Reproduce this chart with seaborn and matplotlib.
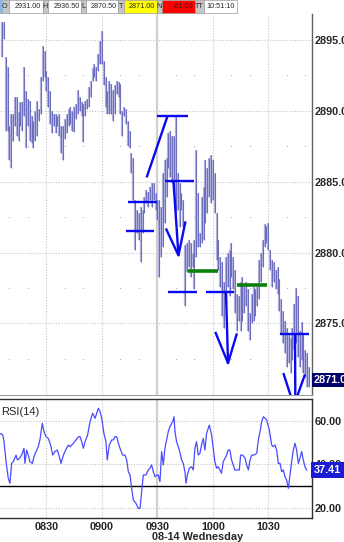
import numpy as np
import pandas as pd
import matplotlib
matplotlib.use("Agg")
import matplotlib.pyplot as plt
from matplotlib.patches import Rectangle
import matplotlib.transforms as mtransforms
import seaborn as sns

# ---------------- data ----------------
start_minute = 6          # first bar 08:06 (minutes after 08:00), 1-minute bars
highs = [2896.3, 2896.3, 2893.8, 2893.1, 2888.9, 2889.8, 2889.8, 2891.0, 2891.0, 2889.9,
         2890.6, 2890.6, 2893.1, 2891.4, 2890.8, 2890.7, 2889.6, 2889.3, 2890.0, 2890.7,
         2890.1, 2892.4, 2894.6, 2894.2, 2892.8, 2892.4, 2891.4, 2890.0, 2889.8, 2889.8,
         2889.6, 2889.8, 2888.9, 2888.9,
         2889.4, 2889.8, 2890.1, 2890.3, 2890.0, 2890.3, 2890.5, 2891.5, 2891.0, 2890.6,
         2890.5, 2890.7, 2890.8, 2891.7, 2892.1, 2893.0, 2893.3, 2893.1, 2894.0, 2894.9,
         2895.6, 2893.5, 2892.4, 2891.4, 2892.1, 2891.9, 2891.5, 2891.8, 2892.1, 2892.0,
         2891.9, 2890.0, 2890.3, 2890.1, 2889.3, 2888.6,
         2887.0, 2886.7, 2883.7, 2883.0, 2882.8, 2883.2, 2883.0, 2883.9, 2884.4, 2884.3,
         2884.6, 2884.9, 2884.9, 2884.2, 2883.7, 2883.7, 2883.2, 2885.6, 2886.5, 2886.7,
         2888.4, 2888.6, 2888.2, 2888.2, 2889.6, 2885.6, 2884.9, 2884.2, 2883.7, 2880.5,
         2880.7, 2880.9,
         2880.7, 2880.0, 2880.9, 2887.2, 2884.2, 2881.4, 2883.9, 2884.6, 2886.5, 2886.0,
         2886.7, 2886.9, 2886.5, 2885.6, 2882.8, 2880.9, 2879.7, 2879.3, 2877.9, 2879.7,
         2880.0, 2880.2, 2880.7, 2879.7, 2878.8, 2877.1, 2876.9, 2877.9, 2878.3, 2877.6,
         2877.9, 2877.4,
         2875.7, 2877.1, 2877.6, 2877.4, 2877.6, 2879.5, 2880.0, 2880.9, 2882.0, 2881.9,
         2882.1, 2880.2, 2879.5, 2879.3, 2878.8, 2879.0, 2878.1, 2876.7, 2875.9, 2875.2,
         2874.7, 2874.3, 2874.0, 2874.7, 2876.4, 2877.5, 2876.9, 2874.5, 2875.1, 2874.3,
         2873.1, 2872.9, 2871.9]
lows = [2893.8, 2895.1, 2888.6, 2888.6, 2886.5, 2886.0, 2887.9, 2888.9, 2888.2, 2887.9,
        2888.9, 2888.6, 2889.6, 2887.4, 2888.9, 2887.9, 2887.7, 2887.4, 2887.9, 2888.2,
        2889.3, 2889.8, 2892.1, 2892.4, 2891.4, 2890.3, 2889.1, 2888.4, 2888.9, 2888.4,
        2888.9, 2888.2, 2887.0, 2886.5,
        2888.0, 2888.4, 2888.9, 2889.1, 2888.6, 2888.5, 2889.4, 2889.8, 2890.0, 2889.6,
        2887.8, 2889.6, 2890.1, 2890.3, 2891.0, 2892.1, 2892.4, 2892.1, 2892.8, 2893.3,
        2893.3, 2891.8, 2890.3, 2889.8, 2889.8, 2889.8, 2889.3, 2889.8, 2891.2, 2891.0,
        2889.8, 2888.2, 2889.6, 2889.1, 2887.5, 2887.4,
        2885.6, 2883.7, 2880.2, 2881.4, 2880.9, 2879.3, 2881.4, 2882.8, 2883.5, 2883.2,
        2883.7, 2883.2, 2883.7, 2883.0, 2882.3, 2878.3, 2879.7, 2880.4, 2882.1, 2883.9,
        2886.0, 2885.3, 2884.9, 2884.2, 2882.8, 2883.0, 2881.8, 2883.0, 2881.8, 2876.2,
        2878.6, 2879.0,
        2878.3, 2879.0, 2877.4, 2879.7, 2880.4, 2880.4, 2880.7, 2880.9, 2882.1, 2882.8,
        2883.9, 2883.5, 2883.7, 2882.8, 2879.5, 2878.8, 2877.6, 2875.5, 2874.7, 2876.4,
        2877.6, 2876.9, 2878.3, 2877.4, 2875.7, 2874.5, 2875.2, 2874.5, 2875.2, 2875.7,
        2876.2, 2874.5,
        2873.8, 2875.0, 2875.2, 2875.5, 2876.2, 2876.7, 2877.9, 2879.0, 2880.4, 2880.7,
        2880.2, 2878.8, 2877.6, 2877.9, 2877.4, 2877.1, 2875.9, 2874.3, 2873.6, 2872.9,
        2871.9, 2872.2, 2871.5, 2872.4, 2873.1, 2873.6, 2872.6, 2871.9, 2872.4, 2871.5,
        2871.2, 2870.5, 2870.5]

rsi_minute = [4.9, 6.4, 7.1, 8.2, 9.4, 10.3, 11.2, 12.1, 13.6, 14.3, 15.4, 16.6, 17.9, 18.4,
              19.3, 20.2, 21.1, 22.4, 23.3, 24.4, 25.6, 26.5, 27.8, 28.7, 29.8, 31.0, 32.3,
              33.4, 34.6, 35.9, 37.0, 37.9, 39.2, 40.4, 41.9, 42.8, 44.6, 46.0, 47.3, 48.2,
              49.1, 50.0, 50.9, 52.3, 53.6, 55.0, 56.3, 57.2, 58.1, 59.0, 59.9, 61.1, 62.2,
              62.9, 64.0, 65.3, 66.2, 67.1, 68.0, 68.9, 69.8, 71.2, 72.5, 73.4, 74.3, 75.2,
              76.1, 77.0, 78.4, 79.7, 80.6, 81.5, 82.4, 83.8, 85.1, 86.0, 86.9, 87.8, 88.7,
              89.6, 90.5, 91.4, 92.3, 93.2, 94.1, 95.0, 95.9, 96.8, 98.3, 99.0, 99.5, 100.4,
              101.9, 103.1, 104.0, 104.9, 105.5, 106.2, 107.3, 108.5, 109.4, 110.3, 111.2,
              112.1, 113.0, 113.9, 114.8, 115.7, 116.6, 118.1, 119.3, 120.2, 121.1, 122.0,
              122.9, 123.8, 124.7, 125.6, 127.1, 128.3, 129.2, 130.1, 131.0, 131.9, 133.2,
              134.3, 135.0, 136.1, 137.4, 138.3, 139.2, 140.1, 141.0, 142.2, 143.7, 144.6,
              145.5, 146.4, 147.3, 148.2, 149.1, 150.5, 151.8, 152.7, 153.6, 154.5, 155.4,
              156.3, 157.2, 158.1, 159.0, 159.9, 160.8, 161.7, 162.6, 163.5, 164.4, 165.3,
              166.2, 167.1, 168.0, 168.9, 169.8, 170.7]
rsi_value = [54.2, 53.5, 50.4, 41.3, 33.7, 31.4, 40.5, 41.3, 44.3, 42.1, 42.8, 44.3, 47.4, 40.5,
             46.6, 44.3, 41.3, 40.5, 43.6, 45.9, 48.1, 51.2, 58.8, 55.0, 52.7, 51.9, 48.9,
             44.3, 45.9, 46.6, 43.6, 40.5, 44.3, 46.6, 48.9, 48.1, 49.7, 51.2, 52.7, 52.7,
             50.4, 47.4, 50.4, 53.5, 59.6, 63.4, 61.1, 63.4, 65.7, 64.2, 61.1, 54.2, 50.4,
             42.1, 48.9, 51.2, 51.2, 52.7, 52.7, 49.7, 47.4, 44.3, 44.3, 42.1, 36.7, 35.2,
             29.1, 23.8, 22.3, 20.0, 20.0, 27.6, 35.2, 35.2, 37.5, 38.3, 39.8, 36.7, 34.4,
             35.2, 35.2, 32.2, 45.9, 39.8, 47.4, 51.2, 55.0, 57.3, 59.6, 61.8, 55.0, 50.4,
             46.6, 42.1, 40.5, 36.7, 31.4, 35.2, 38.3, 39.0, 37.5, 47.4, 50.4,
             44.3, 45.1, 48.9, 51.9, 46.6, 54.2, 58.0, 53.5, 47.4, 41.3, 38.3,
             39.0, 37.5, 36.0, 41.3, 43.6, 46.6, 46.6, 42.1, 39.8, 37.5, 37.5,
             37.5, 44.3, 44.3, 42.8, 39.8, 37.5, 42.1, 44.3, 44.3, 45.1, 51.2,
             55.0, 59.6, 61.8, 61.1, 60.3, 55.8, 48.9, 48.1, 48.9, 46.6, 40.5,
             40.5, 36.7, 37.5, 34.4, 32.9, 29.1, 35.2, 41.3, 46.6, 49.7, 46.6,
             40.5, 42.8, 45.9, 42.1, 39.0, 37.41]

# hand-drawn trend lines (minute, price)
blue_lines = [
    [(84.2, 2885.3), (95.4, 2889.6)],
    [(89.9, 2889.6), (106.5, 2889.6)],
    [(94.1, 2885.05), (109.6, 2885.05)],
    [(74.1, 2883.6), (89.8, 2883.6)],
    [(73.0, 2881.5), (88.2, 2881.5)],
    [(94.6, 2881.7), (101.4, 2879.8), (105.2, 2882.2)],
    [(98.7, 2885.05), (101.4, 2879.8)],
    [(96.0, 2877.2), (111.4, 2877.2)],
    [(116.3, 2877.2), (131.4, 2877.2)],
    [(121.3, 2874.4), (128.2, 2872.2), (133.0, 2874.3)],
    [(127.1, 2877.2), (128.2, 2872.2)],
    [(156.3, 2874.25), (172.0, 2874.25)],
    [(158.1, 2871.5), (163.8, 2869.2), (169.8, 2871.4)],
    [(164.4, 2874.3), (164.6, 2869.2)],
]
green_lines = [
    [(106.5, 2878.7), (122.8, 2878.7)],
    [(133.0, 2877.7), (149.2, 2877.7)],
]

tick_minutes = [30, 60, 90, 120, 150]
tick_labels = ["0830", "0900", "0930", "1000", "1030"]
session_open_minute = 90
price_ticks = [2875, 2880, 2885, 2890, 2895]
minor_price = [2872.5, 2877.5, 2882.5, 2887.5, 2892.5]
minor_minutes = [10, 20, 40, 50, 70, 80, 100, 110, 130, 140, 160, 170]
rsi_ticks = [20, 40, 60]
rsi_level = 30
last_price = 2871.0
last_rsi = 37.41
date_label = "08-14 Wednesday"
header_labels = ["O", "H", "L", "T", "N", "TT"]
header_values = ["2931.00", "2936.50", "2870.50", "2871.00", "-61.00", "10:51:10"]
header_colors = ["white", "white", "white", "#ffff00", "#ff0000", "white"]

# ---------------- figure ----------------
sns.set_style("white")
plt.rcParams["font.family"] = ["Liberation Sans", "DejaVu Sans"]

W, H = 344, 542
fig = plt.figure(figsize=(W / 100, H / 100), dpi=100)
fig.patch.set_facecolor("white")


def rect(x0, y0, x1, y1):
    return [x0 / W, 1 - y1 / H, (x1 - x0) / W, (y1 - y0) / H]


ax = fig.add_axes(rect(0, 14, 312, 395))
ax2 = fig.add_axes(rect(0, 399, 312, 518))

xlim = (4.92, 173.6)
for a in (ax, ax2):
    a.set_xlim(*xlim)
    a.set_facecolor("white")
ax.set_ylim(2869.95, 2896.83)
ax2.set_ylim(15.57, 69.9)

grid_c = "#c4c4c4"
for m in tick_minutes:
    for a in (ax, ax2):
        if m == session_open_minute:
            a.axvline(m, color="#d0d0d0", lw=1.6, zorder=0)
        else:
            a.axvline(m, color=grid_c, lw=0.8, ls=(0, (1, 1.5)), zorder=0)
for p in price_ticks:
    ax.axhline(p, color=grid_c, lw=0.8, ls=(0, (1, 1.5)), zorder=0)
for r in rsi_ticks:
    ax2.axhline(r, color=grid_c, lw=0.8, ls=(0, (1, 1.5)), zorder=0)
mm, pp = np.meshgrid(minor_minutes, minor_price)
ax.scatter(mm.ravel(), pp.ravel(), s=0.8, color="#b0b0b0", zorder=0, linewidths=0)

# price bars
bars = pd.DataFrame({"high": highs, "low": lows})
bars["minute"] = start_minute + np.arange(len(bars))
ax.vlines(bars["minute"], bars["low"], bars["high"], colors="#b0b0de", linewidth=1.6, zorder=2)
ax.vlines(bars["minute"], bars["low"], bars["high"], colors="#6262b8", linewidth=0.6, zorder=3)

# drawings
for seg in blue_lines:
    xs, ys = zip(*seg)
    ax.plot(xs, ys, color="#0a0af0", lw=1.7, zorder=4, solid_capstyle="butt")
for seg in green_lines:
    xs, ys = zip(*seg)
    ax.plot(xs, ys, color="#0a800a", lw=2.6, zorder=4, solid_capstyle="butt")

# RSI
rsi = pd.DataFrame({"minute": rsi_minute, "rsi": rsi_value})
sns.lineplot(data=rsi, x="minute", y="rsi", ax=ax2, color="#4a4aff", lw=0.9, zorder=3)
ax2.axhline(rsi_level, color="black", lw=1.0, zorder=2)
ax2.set_xlabel("")
ax2.set_ylabel("")

# spines
for s in ("top", "left"):
    ax.spines[s].set_visible(False)
ax.spines["right"].set_color("#606060")
ax.spines["bottom"].set_color("#a0a0a0")
ax.spines["right"].set_linewidth(1.0)
ax2.spines["left"].set_visible(False)
for s in ("top", "bottom", "right"):
    ax2.spines[s].set_color("#303030")
    ax2.spines[s].set_linewidth(1.0)

# ticks
ax.yaxis.tick_right()
ax.set_yticks(price_ticks)
ax.set_yticklabels([f"{v:.2f}" for v in price_ticks], fontsize=7.8, fontweight="bold")
ax.tick_params(axis="y", length=0, pad=2)
ax.set_xticks([])
ax2.yaxis.tick_right()
ax2.set_yticks(rsi_ticks)
ax2.set_yticklabels([f"{v:.2f}" for v in rsi_ticks], fontsize=7.8, fontweight="bold")
ax2.tick_params(axis="y", length=0, pad=2)
ax2.set_xticks(tick_minutes)
ax2.set_xticklabels(tick_labels, fontsize=7.8, fontweight="bold")
ax2.tick_params(axis="x", length=0, pad=3)

# value boxes
tr = mtransforms.blended_transform_factory(ax.transAxes, ax.transData)
ax.text(1.006, last_price, f"{last_price:.2f}", transform=tr, color="white", fontsize=7.8,
        fontweight="bold", va="center", ha="left", clip_on=False, zorder=6,
        bbox=dict(boxstyle="square,pad=0.18", fc="#00006a", ec="none"))
tr2 = mtransforms.blended_transform_factory(ax2.transAxes, ax2.transData)
ax2.text(1.006, last_rsi, f"{last_rsi:.2f}", transform=tr2, color="white", fontsize=7.8,
         fontweight="bold", va="center", ha="left", clip_on=False, zorder=6,
         bbox=dict(boxstyle="square,pad=0.3", fc="#1c1cd6", ec="none"))

ax2.text(0.004, 0.93, "RSI(14)", transform=ax2.transAxes, fontsize=8, va="top", ha="left")

fig.text(198 / W, 1 - 537 / H, date_label, ha="center", va="center", fontsize=7.8,
         fontweight="bold")

# header strip
lab_x = [(0, 9.3), (42.7, 47.7), (81, 86), (118.3, 124.3), (156.7, 162.3), (195, 204)]
val_x = [(9.3, 42.7), (47.7, 81), (86, 118.3), (124.3, 156.7), (162.3, 195), (204, 236.7)]
for lab, val, col, (l0, l1), (v0, v1) in zip(header_labels, header_values, header_colors,
                                              lab_x, val_x):
    fig.patches.append(Rectangle((l0 / W, 1 - 13.3 / H), (l1 - l0) / W, 13.3 / H,
                                 transform=fig.transFigure, fc="#c6c6c6", ec="#9a9a9a",
                                 lw=0.5))
    fig.patches.append(Rectangle((v0 / W, 1 - 13.3 / H), (v1 - v0) / W, 13.3 / H,
                                 transform=fig.transFigure, fc=col, ec="#9a9a9a", lw=0.5))
    fig.text((l0 + l1) / 2 / W, 1 - 7 / H, lab, ha="center", va="center", fontsize=5.2)
    fig.text((v1 - 1.5) / W, 1 - 7 / H, val, ha="right", va="center", fontsize=5.2)
fig.patches.append(Rectangle((0, 1 - 13.3 / H), 2.5 / W, 13.3 / H, transform=fig.transFigure,
                             fc="#8fb4e0", ec="none"))

fig.savefig("out.png", dpi=100, facecolor="white")
